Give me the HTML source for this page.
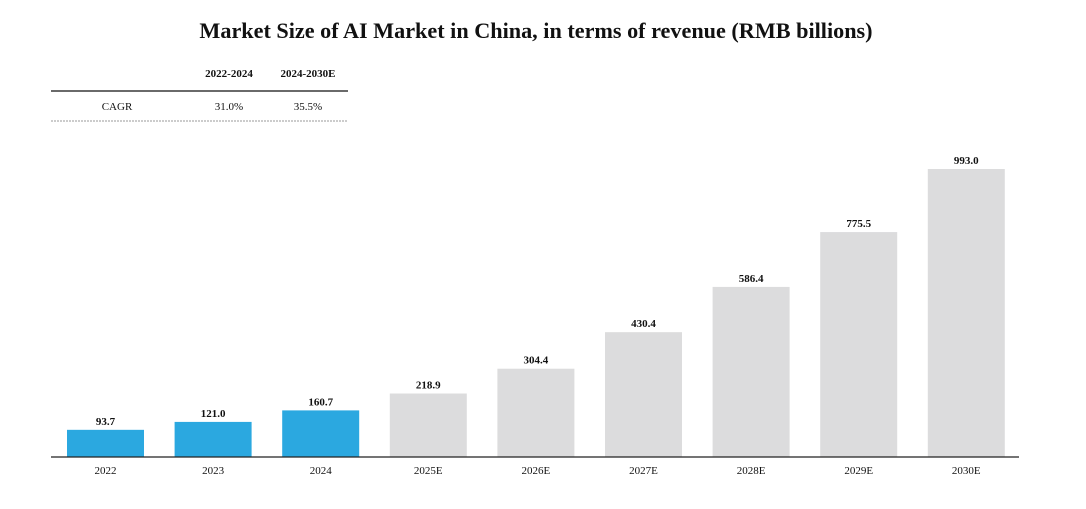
<!DOCTYPE html>
<html><head><meta charset="utf-8"><style>
body{margin:0;background:#fff;font-family:"Liberation Serif",serif;}
</style></head><body>
<svg width="1086" height="504" xmlns="http://www.w3.org/2000/svg">
<text x="536" y="38" text-anchor="middle" font-size="22.2" font-weight="bold" fill="#111">Market Size of AI Market in China, in terms of revenue (RMB billions)</text>
<g font-size="11" fill="#111">
<text x="229" y="77" text-anchor="middle" font-weight="bold">2022-2024</text>
<text x="308" y="77" text-anchor="middle" font-weight="bold">2024-2030E</text>
<line x1="51" y1="91" x2="348" y2="91" stroke="#111" stroke-width="1.2"/>
<text x="117" y="110" text-anchor="middle">CAGR</text>
<text x="229" y="110" text-anchor="middle">31.0%</text>
<text x="308" y="110" text-anchor="middle">35.5%</text>
<line x1="51" y1="121" x2="348" y2="121" stroke="#999" stroke-width="1" stroke-dasharray="2,1"/>
</g>
<g id="bars"></g>
<line x1="51" y1="457" x2="1019" y2="457" stroke="#222" stroke-width="1.2"/>
</svg>
<script>
const categories=["2022","2023","2024","2025E","2026E","2027E","2028E","2029E","2030E"];
const values=[93.7,121.0,160.7,218.9,304.4,430.4,586.4,775.5,993.0];
const historical=[true,true,true,false,false,false,false,false,false];
const base=457, scale=288/993, x0=105.5, pitch=107.6, bw=77;
const ns="http://www.w3.org/2000/svg";
const g=document.getElementById('bars');
function xc(i){return x0+i*pitch;}
function yv(v){return base-v*scale;}
categories.forEach((c,i)=>{
  const v=values[i];
  const r=document.createElementNS(ns,'rect');
  r.setAttribute('x',xc(i)-bw/2);r.setAttribute('y',yv(v));
  r.setAttribute('width',bw);r.setAttribute('height',base-yv(v));
  r.setAttribute('fill',historical[i]?'#2ba8e0':'#dcdcdd');
  
  
  g.appendChild(r);
  const t=document.createElementNS(ns,'text');
  t.setAttribute('x',xc(i));t.setAttribute('y',yv(v)-5);
  t.setAttribute('text-anchor','middle');t.setAttribute('font-size','11');t.setAttribute('font-weight','bold');t.setAttribute('fill','#111');
  t.textContent=v.toFixed(1);
  
  
  g.appendChild(t);
  const l=document.createElementNS(ns,'text');
  l.setAttribute('x',xc(i));l.setAttribute('y',474);
  l.setAttribute('text-anchor','middle');l.setAttribute('font-size','11');l.setAttribute('fill','#111');
  l.textContent=c;
  
  
  g.appendChild(l);
});
</script>
</body></html>
